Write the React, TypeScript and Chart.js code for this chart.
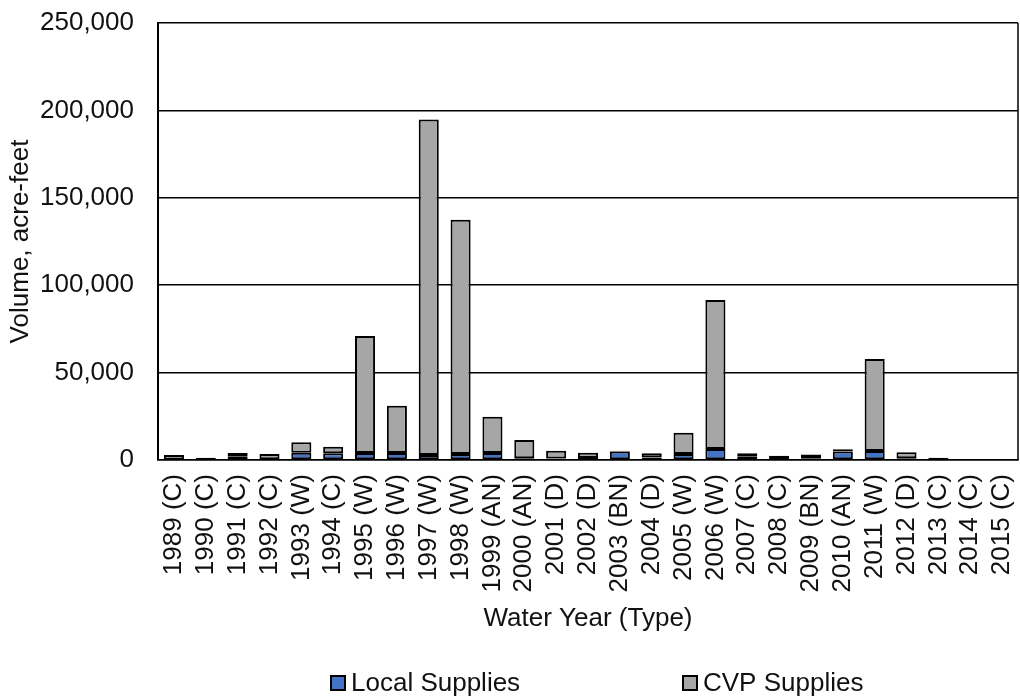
import React, { useEffect, useRef } from "react";
import { Chart, registerables } from "chart.js";

Chart.register(...registerables);

const years = [
  "1989 (C)", "1990 (C)", "1991 (C)", "1992 (C)", "1993 (W)", "1994 (C)", "1995 (W)",
  "1996 (W)", "1997 (W)", "1998 (W)", "1999 (AN)", "2000 (AN)", "2001 (D)", "2002 (D)",
  "2003 (BN)", "2004 (D)", "2005 (W)", "2006 (W)", "2007 (C)", "2008 (C)", "2009 (BN)",
  "2010 (AN)", "2011 (W)", "2012 (D)", "2013 (C)", "2014 (C)", "2015 (C)",
];

const localSupplies = [
  300, 300, 1800, 500, 4200, 3800, 4000, 4000, 2800, 3500, 4000, 1000, 800, 1200,
  4800, 1500, 3500, 6300, 1800, 500, 1000, 4800, 5100, 1000, 200, 0, 0,
];

const cvpSupplies = [
  2500, 1000, 2200, 3000, 6000, 3800, 67000, 27000, 192000, 134000, 20800, 10400, 4500, 3000,
  500, 2300, 12100, 85200, 2000, 2000, 2200, 1300, 52700, 3400, 1100, 0, 0,
];

const yTicks = [0, 50000, 100000, 150000, 200000, 250000];

const FONT = "'Liberation Sans', Arial, sans-serif";
const TEXT = "#111";
const FS = 26;

const framePlugin = {
  id: "frameAndLegend",
  afterDatasetsDraw(chart: any) {
    const { ctx, chartArea } = chart;
    ctx.save();
    ctx.strokeStyle = "#000";
    ctx.lineWidth = 1.5;
    ctx.beginPath();
    ctx.moveTo(chartArea.right, chartArea.top);
    ctx.lineTo(chartArea.right, chartArea.bottom);
    ctx.stroke();
    ctx.restore();
  },
  afterDraw(chart: any) {
    const { ctx } = chart;
    const boxX = [330, 682];
    const yMid = 683;
    const box = 16;
    ctx.save();
    ctx.font = `${FS}px ${FONT}`;
    ctx.textBaseline = "middle";
    ctx.textAlign = "left";
    chart.data.datasets.forEach((ds: any, i: number) => {
      const x = boxX[i];
      ctx.fillStyle = ds.backgroundColor;
      ctx.fillRect(x, yMid - box / 2, box, box);
      ctx.strokeStyle = "#000";
      ctx.lineWidth = 2;
      ctx.strokeRect(x + 1, yMid - box / 2 + 1, box - 2, box - 2);
      ctx.fillStyle = TEXT;
      ctx.fillText(ds.label, x + box + 5, yMid + 1);
    });
    ctx.restore();
  },
};

export default function App() {
  const ref = useRef<HTMLCanvasElement | null>(null);

  useEffect(() => {
    if (!ref.current) return;
    const chart = new Chart(ref.current, {
      type: "bar",
      data: {
        labels: years,
        datasets: [
          {
            label: "Local Supplies",
            data: localSupplies,
            backgroundColor: "#4472C4",
            borderColor: "#000",
            borderWidth: 2,
            borderSkipped: false,
            categoryPercentage: 1,
            barPercentage: 0.63,
          },
          {
            label: "CVP Supplies",
            data: cvpSupplies,
            backgroundColor: "#A6A6A6",
            borderColor: "#000",
            borderWidth: 2,
            borderSkipped: false,
            categoryPercentage: 1,
            barPercentage: 0.63,
          },
        ],
      },
      options: {
        responsive: false,
        animation: false,
        layout: { padding: { top: 23, right: 2, left: 0, bottom: 0 } },
        plugins: {
          legend: { display: false },
          tooltip: { enabled: false },
        },
        scales: {
          x: {
            stacked: true,
            grid: { display: false, drawTicks: false },
            border: { display: true, color: "#000", width: 1.5 },
            ticks: {
              autoSkip: false,
              minRotation: 90,
              maxRotation: 90,
              padding: 14,
              color: TEXT,
              font: { family: FONT, size: FS },
            },
            title: {
              display: true,
              text: "Water Year (Type)",
              color: TEXT,
              font: { family: FONT, size: FS },
              padding: { top: 0, bottom: 62 },
            },
            afterFit(scale: any) {
              scale.height = 236;
              scale.paddingLeft = 0;
              scale.paddingRight = 0;
            },
          },
          y: {
            stacked: true,
            min: 0,
            max: 250000,
            afterBuildTicks(scale: any) {
              scale.ticks = yTicks.map((v) => ({ value: v }));
            },
            grid: { color: "#000", lineWidth: 1.5, drawTicks: false },
            border: { display: true, color: "#000", width: 2 },
            ticks: {
              padding: 24,
              color: TEXT,
              font: { family: FONT, size: FS },
              callback: (v: any) => Number(v).toLocaleString("en-US"),
            },
            title: {
              display: true,
              text: "Volume, acre-feet",
              color: TEXT,
              font: { family: FONT, size: FS },
              padding: { top: 5, bottom: 0 },
            },
            afterFit(scale: any) {
              scale.width = 158;
              scale.paddingTop = 0;
              scale.paddingBottom = 0;
            },
          },
        },
      },
      plugins: [framePlugin],
    });
    return () => chart.destroy();
  }, []);

  return (
    <div style={{ position: "fixed", left: 0, top: 0, width: 1020, height: 696, background: "#fff" }}>
      <canvas ref={ref} width={1020} height={696} style={{ width: 1020, height: 696, display: "block" }} />
    </div>
  );
}
